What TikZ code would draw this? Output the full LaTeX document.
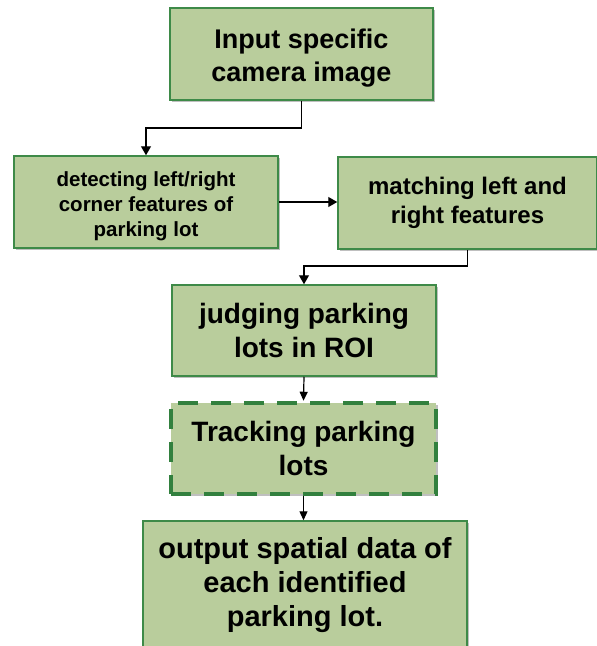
\documentclass[tikz,border=0pt]{standalone}
\usepackage{fontspec}
\setmainfont{Liberation Sans}
\usetikzlibrary{positioning,arrows.meta,shadows}
\definecolor{boxfill}{RGB}{185,205,156}
\definecolor{boxline}{RGB}{62,138,72}
\definecolor{dashline}{RGB}{50,128,62}

\begin{document}
\begin{tikzpicture}[x=1pt,y=-1pt,
  stage/.style={draw=boxline,line width=1.5pt,fill=boxfill,align=center,inner sep=0pt,
    drop shadow={opacity=0.25,shadow xshift=2pt,shadow yshift=-2pt,fill=black}},
  optional/.style={stage,draw=dashline,line width=4.5pt,dash pattern=on 20pt off 13pt},
  big/.style={font=\fontsize{28}{34}\selectfont\bfseries},
  flow/.style={-{Triangle[width=10pt,length=9pt]},line width=1.3pt},
  short/.style={-{Triangle[width=8pt,length=9pt]},line width=1.2pt}]
\useasboundingbox (0,0) rectangle (597,646);

% the stages of the pipeline (the struts push the first two texts a bit lower)
\node[stage,font=\fontsize{27}{33}\selectfont\bfseries,minimum width=263pt,minimum height=92pt]
  (input) at (301.5,54) {\rule{0pt}{27pt}Input specific\\camera image};
\node[stage,font=\fontsize{20.5}{25}\selectfont\bfseries,minimum width=264pt,minimum height=92pt]
  (detect) at (146,202) {\rule{0pt}{24pt}detecting left/right\\corner features of\\parking lot};
\node[stage,font=\fontsize{24}{28.5}\selectfont\bfseries,minimum width=259pt,minimum height=92pt]
  (match) at (467.5,203) {matching left and\\right features};
\node[stage,big,minimum width=264pt,minimum height=91pt] (judge) at (304,330.5)
  {judging parking\\lots in ROI};
\node[optional,big,minimum width=265pt,minimum height=91pt] (track) at (303.5,448.5)
  {Tracking parking\\lots};
\node[stage,font=\fontsize{29}{34}\selectfont\bfseries,minimum width=324pt,minimum height=128pt]
  (output) at (305,585) {output spatial data of\\each identified\\parking lot.};

% connectors
\coordinate (turnA) at (0,128);
\coordinate (turnB) at (0,266);
\draw[flow] (input.south) -- (input.south |- turnA) -- (detect.north |- turnA) -- (detect.north);
\draw[flow] (detect.east) -- (detect.east -| match.west);
\draw[flow] (match.south) -- (match.south |- turnB) -- (judge.north |- turnB) -- (judge.north);
\draw[short] (judge.south) -- (track.north);
\draw[short] (track.south) -- (track.south |- output.north);
\end{tikzpicture}
\end{document}
